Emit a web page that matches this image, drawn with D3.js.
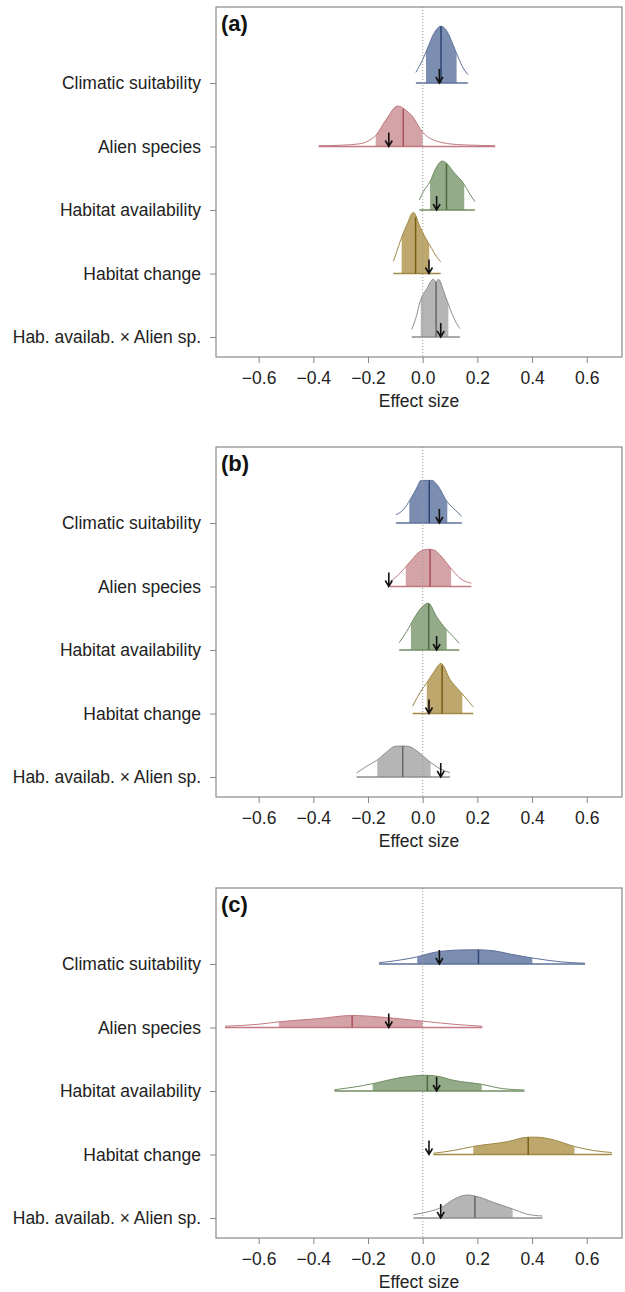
<!DOCTYPE html>
<html>
<head>
<meta charset="utf-8">
<script src="https://cdn.jsdelivr.net/npm/d3@7/dist/d3.min.js"></script>
<style>
  body { margin: 0; background: #fff; }
  text { font-family: "Liberation Sans", Arial, sans-serif; }
</style>
</head>
<body>
<script>
// rows, top to bottom
const categories = ["Climatic suitability", "Alien species", "Habitat availability",
                    "Habitat change", "Hab. availab. \u00d7 Alien sp."];
const panelLabels = ["(a)", "(b)", "(c)"];
const xTicks = [-0.6, -0.4, -0.2, 0.0, 0.2, 0.4, 0.6];
// arrows (observed value), same in every panel
const observed = [0.061, -0.124, 0.051, 0.023, 0.066];

// panel (a)
const medianA = [0.067, -0.071, 0.087, -0.026, 0.049];
const lowerA  = [0.012, -0.172, 0.027, -0.077, -0.007];
const upperA  = [0.124, 0.000, 0.152, 0.024, 0.094];
const gridA = [
  [-0.025, 0, 0.02, 0.04, 0.067, 0.09, 0.11, 0.13, 0.15, 0.165],
  [-0.38, -0.3, -0.23, -0.2, -0.172, -0.132, -0.092, -0.06, -0.04, 0.0, 0.025, 0.051, 0.09, 0.124, 0.2, 0.265],
  [-0.012, 0.002, 0.027, 0.045, 0.072, 0.09, 0.112, 0.149, 0.173, 0.191],
  [-0.107, -0.095, -0.083, -0.059, -0.034, -0.01, 0.008, 0.033, 0.051, 0.066],
  [-0.04, -0.022, -0.01, 0.015, 0.039, 0.049, 0.057, 0.082, 0.1, 0.118, 0.136]
];
const densA = [
  [1.5, 3.3, 5.1, 6.9, 8.0, 7.2, 5.5, 3.6, 2.0, 1.2],
  [0.11, 0.18, 0.38, 0.77, 1.55, 3.9, 5.7, 5.07, 4.37, 2.01, 1.2, 0.75, 0.42, 0.28, 0.17, 0.11],
  [1.41, 2.58, 3.99, 5.63, 6.9, 6.48, 5.39, 3.76, 2.21, 1.17],
  [1.73, 3.06, 4.46, 6.76, 8.59, 6.58, 5.17, 3.52, 2.35, 1.65],
  [1.08, 3.06, 4.93, 6.8, 8.13, 7.75, 8.13, 5.87, 3.99, 2.35, 1.17]
];

// panel (b)
const medianB = [0.024, 0.027, 0.022, 0.071, -0.073];
const lowerB  = [-0.049, -0.062, -0.043, 0.015, -0.166];
const upperB  = [0.090, 0.104, 0.088, 0.145, 0.029];
const gridB = [
  [-0.098, -0.071, -0.046, -0.022, -0.006, 0.02, 0.033, 0.057, 0.088, 0.118, 0.143],
  [-0.12, -0.083, -0.059, -0.04, -0.01, 0.024, 0.045, 0.063, 0.1, 0.136, 0.178],
  [-0.086, -0.059, -0.028, -0.004, 0.021, 0.051, 0.088, 0.112, 0.134],
  [-0.037, -0.01, 0.015, 0.039, 0.067, 0.1, 0.136, 0.167, 0.185],
  [-0.242, -0.205, -0.168, -0.132, -0.101, -0.075, -0.053, -0.016, 0.027, 0.063, 0.1]
];
const densB = [
  [1.17, 1.87, 3.28, 4.93, 6.0, 6.0, 6.0, 5.17, 3.06, 1.87, 0.94],
  [0.7, 1.87, 2.92, 3.76, 4.93, 5.25, 5.07, 4.46, 2.72, 1.17, 0.46],
  [1.03, 2.58, 4.69, 6.01, 6.58, 4.69, 2.82, 1.87, 0.94],
  [1.03, 2.92, 4.32, 5.73, 7.04, 4.79, 3.14, 1.73, 0.94],
  [0.56, 1.51, 2.35, 3.52, 4.32, 4.37, 4.32, 3.52, 2.11, 1.17, 0.61]
];

// panel (c)
const medianC = [0.204, -0.258, 0.017, 0.386, 0.191];
const lowerC  = [-0.020, -0.526, -0.183, 0.185, 0.069];
const upperC  = [0.401, 0.000, 0.216, 0.555, 0.329];
const gridC = [
  [-0.16, -0.1, -0.022, 0.04, 0.136, 0.204, 0.28, 0.319, 0.401, 0.502, 0.594],
  [-0.723, -0.6, -0.526, -0.376, -0.26, -0.124, 0.0, 0.112, 0.218],
  [-0.323, -0.25, -0.183, -0.083, 0.01, 0.05, 0.112, 0.216, 0.295, 0.372],
  [0.039, 0.112, 0.185, 0.313, 0.386, 0.417, 0.478, 0.555, 0.624, 0.692],
  [-0.034, 0.027, 0.069, 0.11, 0.161, 0.191, 0.258, 0.329, 0.38, 0.438]
];
const densC = [
  [0.18, 0.46, 0.99, 1.62, 1.97, 2.0, 1.73, 1.41, 0.85, 0.32, 0.1],
  [0.18, 0.46, 0.8, 1.27, 1.69, 1.37, 0.89, 0.46, 0.18],
  [0.18, 0.56, 1.03, 1.87, 2.21, 2.11, 1.51, 0.94, 0.32, 0.14],
  [0.18, 0.56, 1.13, 1.83, 2.44, 2.44, 2.07, 1.13, 0.56, 0.28],
  [0.46, 0.94, 1.51, 2.54, 3.24, 3.1, 2.21, 1.27, 0.56, 0.28]
];

const fills   = ["#7b8db0", "#d4a3a7", "#94ab89", "#bea76d", "#b5b5b5"];
const strokes = ["#5d7199", "#c07a80", "#6f8c62", "#a08845", "#8e8e8e"];
const medCols = ["#2f4474", "#a9505a", "#4c6a3e", "#7a5e14", "#666666"];

const panels = [
  { label: panelLabels[0], median: medianA, lower: lowerA, upper: upperA, grid: gridA, dens: densA, top: 7 },
  { label: panelLabels[1], median: medianB, lower: lowerB, upper: upperB, grid: gridB, dens: densB, top: 447 },
  { label: panelLabels[2], median: medianC, lower: lowerC, upper: upperC, grid: gridC, dens: densC, top: 888 }
];

const width = 625, height = 1292;
const left = 216, right = 622, boxH = 350;

const svg = d3.select('body').append('svg')
    .attr('width', width)
    .attr('height', height);

const x = d3.scaleLinear().domain([-0.756, 0.729]).range([left, right]);
// height of a density value in pixels
const h = d3.scaleLinear().domain([0, 1]).range([0, 7.1]);

function densAt(gx, gy, v) {
    if (v <= gx[0]) return gy[0];
    for (let k = 1; k < gx.length; k++) {
        if (v <= gx[k]) {
            const t = (v - gx[k-1]) / (gx[k] - gx[k-1]);
            return gy[k-1] + t * (gy[k] - gy[k-1]);
        }
    }
    return gy[gy.length - 1];
}

panels.forEach((p, pi) => {
    const g = svg.append('g').attr('transform', 'translate(0,' + p.top + ')');
    const y = d3.scaleLinear().domain([-1.197, 4.315]).range([0, boxH]);

    // axes
    const xAxis = d3.axisBottom(x)
        .tickValues(xTicks)
        .tickFormat(d3.format('.1f'))
        .tickSize(6)
        .tickPadding(4);
    const xg = g.append('g').attr('transform', 'translate(0,' + boxH + ')').call(xAxis);
    xg.select('.domain').remove();
    xg.selectAll('line').attr('stroke', '#888');
    xg.selectAll('text').attr('font-size', 17.5).attr('fill', '#222').attr('dy', '0.95em');

    const yAxis = d3.axisLeft(y)
        .tickValues(d3.range(categories.length))
        .tickFormat(i => categories[i])
        .tickSize(6)
        .tickPadding(9);
    const yg = g.append('g').attr('transform', 'translate(' + left + ',0)').call(yAxis);
    yg.select('.domain').remove();
    yg.selectAll('line').attr('stroke', '#888');
    yg.selectAll('text').attr('font-size', 17.5).attr('fill', '#222');

    g.append('text')
        .attr('x', (left + right) / 2)
        .attr('y', boxH + 50)
        .attr('text-anchor', 'middle')
        .attr('font-size', 17.5)
        .attr('fill', '#222')
        .text('Effect size');

    // densities
    categories.forEach((c, i) => {
        const gx = p.grid[i], gy = p.dens[i];
        const pts = gx.map((v, k) => [v, gy[k]]);
        const base = y(i);

        const area = d3.area()
            .x(d => x(d[0]))
            .y0(base)
            .y1(d => base - h(d[1]))
            .curve(d3.curveMonotoneX);
        const line = d3.line()
            .x(d => x(d[0]))
            .y(d => base - h(d[1]))
            .curve(d3.curveMonotoneX);

        const clipId = 'clip-' + pi + '-' + i;
        g.append('clipPath').attr('id', clipId)
            .append('rect')
            .attr('x', x(p.lower[i]))
            .attr('y', base - 80)
            .attr('width', x(p.upper[i]) - x(p.lower[i]))
            .attr('height', 81);

        g.append('path')
            .attr('d', area(pts))
            .attr('fill', fills[i])
            .attr('clip-path', 'url(#' + clipId + ')');

        g.append('path')
            .attr('d', line(pts))
            .attr('fill', 'none')
            .attr('stroke', strokes[i])
            .attr('stroke-width', 1);

        g.append('line')
            .attr('x1', x(gx[0])).attr('x2', x(gx[gx.length - 1]))
            .attr('y1', base).attr('y2', base)
            .attr('stroke', strokes[i])
            .attr('stroke-width', 1.5);

        const m = p.median[i];
        g.append('line')
            .attr('x1', x(m)).attr('x2', x(m))
            .attr('y1', base).attr('y2', base - h(densAt(gx, gy, m)))
            .attr('stroke', medCols[i])
            .attr('stroke-width', 1.5);
    });

    // zero line
    g.append('line')
        .attr('x1', x(0)).attr('x2', x(0))
        .attr('y1', 0).attr('y2', boxH)
        .attr('stroke', '#999')
        .attr('stroke-width', 1)
        .attr('stroke-dasharray', '1,2');

    // arrows
    observed.forEach((v, i) => {
        const ax = x(v), ay = y(i);
        g.append('path')
            .attr('d', 'M' + ax + ',' + (ay - 14) + 'L' + ax + ',' + ay
                + 'M' + (ax - 3.5) + ',' + (ay - 6) + 'L' + ax + ',' + ay + 'L' + (ax + 3.5) + ',' + (ay - 6))
            .attr('fill', 'none')
            .attr('stroke', '#111')
            .attr('stroke-width', 1.6);
    });

    // box
    g.append('rect')
        .attr('x', left).attr('y', 0)
        .attr('width', right - left).attr('height', boxH)
        .attr('fill', 'none')
        .attr('stroke', '#888')
        .attr('stroke-width', 1.2);

    g.append('text')
        .attr('x', left + 5)
        .attr('y', 24)
        .attr('font-size', 22)
        .attr('font-weight', 'bold')
        .attr('fill', '#111')
        .text(p.label);
});
</script>
</body>
</html>
